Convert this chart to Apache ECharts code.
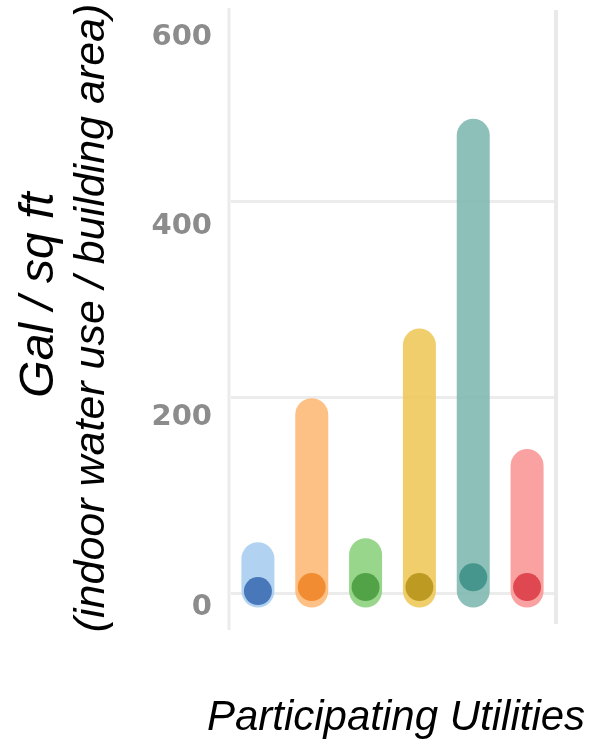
<!DOCTYPE html>
<html>
<head>
<meta charset="utf-8">
<script src="https://cdn.jsdelivr.net/npm/echarts@6/dist/echarts.min.js"></script>
<style>html,body{margin:0;padding:0;background:#fff;}#c{width:595px;height:744px;}</style>
</head>
<body>
<div id="c"></div>
<script>
// ---- data ----
const categories = ['Utility 1', 'Utility 2', 'Utility 3', 'Utility 4', 'Utility 5', 'Utility 6'];
const maxValues = [35, 182, 39, 253, 467, 130];
const minValues = [2, 2, 2, 2, 2, 2];
const medianValues = [2, 6, 6, 6, 16, 6];
const yTicks = [0, 200, 400, 600];
const yTitleLines = ['Gal / sq ft', '(indoor water use / building area)'];
const xTitle = 'Participating Utilities';

// ---- style ----
const lightColors = ['#a9cdef', '#fdb978', '#8dd27e', '#eec95c', '#80b9b1', '#f99797'];
const darkColors = ['#3d6eb3', '#f0862a', '#4a9d40', '#b7961c', '#3e9188', '#db3e47'];
const labelShift = {0: 14, 200: 20, 400: 25, 600: 32};

const chart = echarts.init(document.getElementById('c'), null, {renderer: 'canvas'});

const rich = {};
yTicks.forEach(function (t) {
  rich['t' + t] = {
    fontFamily: 'DejaVu Sans', fontWeight: 'bold', fontSize: 29, color: '#8c8c8c',
    padding: [labelShift[t] * 2, 0, 0, 0]
  };
});

const series = [];
categories.forEach(function (c, i) {
  series.push({
    type: 'line',
    clip: false,
    symbol: 'none',
    silent: true,
    z: 2,
    lineStyle: {width: 33, cap: 'round', color: lightColors[i], opacity: 0.9},
    data: [[c, minValues[i]], [c, maxValues[i]]]
  });
});
series.push({
  type: 'scatter',
  clip: false,
  symbol: 'circle',
  symbolSize: 28,
  z: 3,
  data: categories.map(function (c, i) {
    return {value: [c, medianValues[i]], itemStyle: {color: darkColors[i], opacity: 0.9}};
  })
});

chart.setOption({
  animation: false,
  backgroundColor: '#ffffff',
  grid: {left: 231, right: 41, top: 5, bottom: 151, containLabel: false},
  xAxis: {
    type: 'category',
    data: categories,
    boundaryGap: true,
    axisLine: {show: false},
    axisTick: {show: false},
    axisLabel: {show: false},
    splitLine: {show: false}
  },
  yAxis: {
    type: 'value',
    min: yTicks[0],
    max: yTicks[yTicks.length - 1],
    interval: 200,
    axisLine: {show: false},
    axisTick: {show: false},
    axisLabel: {
      margin: 19,
      formatter: function (v) { return '{t' + v + '|' + v + '}'; },
      rich: rich
    },
    splitLine: {show: true, showMaxLine: false, lineStyle: {color: '#ececec', width: 3}}
  },
  graphic: [
    {type: 'line', z: 1, shape: {x1: 229, y1: 8, x2: 229, y2: 630}, style: {stroke: '#ebebeb', lineWidth: 3}},
    {type: 'line', z: 1, shape: {x1: 556, y1: 10, x2: 556, y2: 624}, style: {stroke: '#e9e9e9', lineWidth: 4}},
    {
      type: 'text', x: 40, y: 295, rotation: Math.PI / 2,
      style: {
        text: yTitleLines[0],
        font: 'italic 48px "Liberation Sans", Arial, sans-serif',
        fill: '#000', align: 'center', verticalAlign: 'middle'
      }
    },
    {
      type: 'text', x: 92, y: 318, rotation: Math.PI / 2,
      style: {
        text: yTitleLines[1],
        font: 'italic 43px "Liberation Sans", Arial, sans-serif',
        fill: '#000', align: 'center', verticalAlign: 'middle'
      }
    },
    {
      type: 'text', x: 396, y: 718,
      style: {
        text: xTitle,
        font: 'italic 42px "Liberation Sans", Arial, sans-serif',
        fill: '#000', align: 'center', verticalAlign: 'middle'
      }
    }
  ],
  series: series
});
</script>
</body>
</html>
